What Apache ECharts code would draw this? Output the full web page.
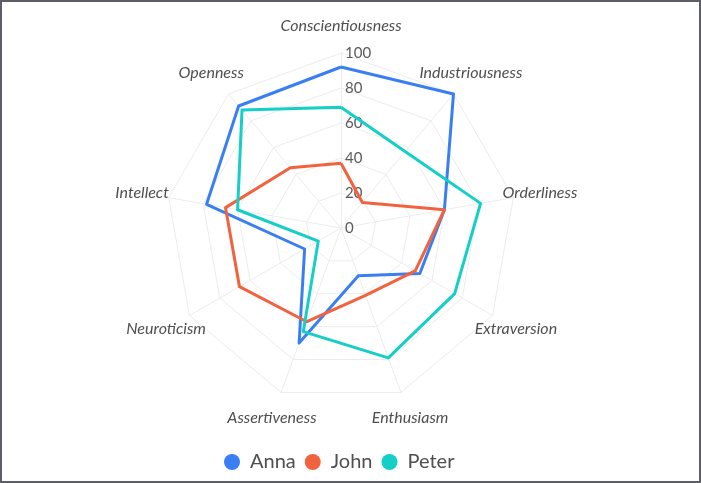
<!DOCTYPE html>
<html>
<head>
<meta charset="utf-8">
<script src="https://cdn.jsdelivr.net/npm/echarts@6/dist/echarts.min.js"></script>
<style>
  html, body { margin: 0; padding: 0; background: #fff; }
  #wrap { position: relative; width: 701px; height: 483px; }
  #chart { position: absolute; left: 0; top: 0; width: 701px; height: 483px; }
  #frame { position: absolute; left: 0; top: 0; width: 701px; height: 483px; box-sizing: border-box;
           border: 2px solid #5e5e66; pointer-events: none; }
</style>
</head>
<body>
<div id="wrap">
  <div id="chart"></div>
  <div id="frame"></div>
</div>
<script>
// traits, clockwise from the top
const traits = ['Conscientiousness', 'Industriousness', 'Orderliness', 'Extraversion', 'Enthusiasm',
  'Assertiveness', 'Neuroticism', 'Intellect', 'Openness']
const anna = [92, 100, 60, 52, 29, 70, 24, 78, 91]
const john = [37, 19, 60, 49, 41, 57, 67, 67, 45]
const peter = [69, 57, 81, 75, 79, 63, 15, 60, 88]
const names = ['Anna', 'John', 'Peter']
const colors = ['#3a7ff2', '#f2623f', '#14cfc7']

// echarts lays radar indicators out counter-clockwise, so flip the order (keep the first on top)
const flip = arr => [arr[0]].concat(arr.slice(1).reverse())

const myChart = echarts.init(document.getElementById('chart'))
const font = 'Lato, "Open Sans", sans-serif'
const option = {
  color: colors,
  legend: {
    bottom: 6,
    left: 219,
    icon: 'circle',
    itemWidth: 26,
    itemHeight: 16,
    itemGap: 9,
    textStyle: { fontSize: 20, color: '#4f4f4f', fontFamily: font },
    data: names
  },
  radar: {
    center: [341, 228],
    radius: 175,
    startAngle: 90,
    shape: 'polygon',
    splitNumber: 5,
    nameGap: 27,
    axisName: {
      color: '#4f4f4f', fontSize: 16, fontStyle: 'italic', fontFamily: font,
      align: 'center', verticalAlign: 'middle'
    },
    splitLine: { lineStyle: { color: '#ececec', width: 1 } },
    splitArea: { show: false },
    axisLine: { lineStyle: { color: '#ececec' } },
    indicator: flip(traits).map(t => ({ name: t, min: 0, max: 100 }))
  },
  polar: { center: [341, 228], radius: 175 },
  angleAxis: { show: false, startAngle: 90, min: 0, max: 360 },
  radiusAxis: {
    min: 0, max: 100, interval: 20,
    axisLine: { show: false }, axisTick: { show: false }, splitLine: { show: false },
    axisLabel: { color: '#5a5a5a', fontSize: 15, fontFamily: font, margin: -4, align: 'left' }
  },
  series: [{
    type: 'radar',
    symbol: 'none',
    lineStyle: { width: 3 },
    data: [
      { name: names[0], value: flip(anna) },
      { name: names[1], value: flip(john) },
      { name: names[2], value: flip(peter) }
    ]
  }]
}
myChart.setOption(option)
</script>
</body>
</html>
